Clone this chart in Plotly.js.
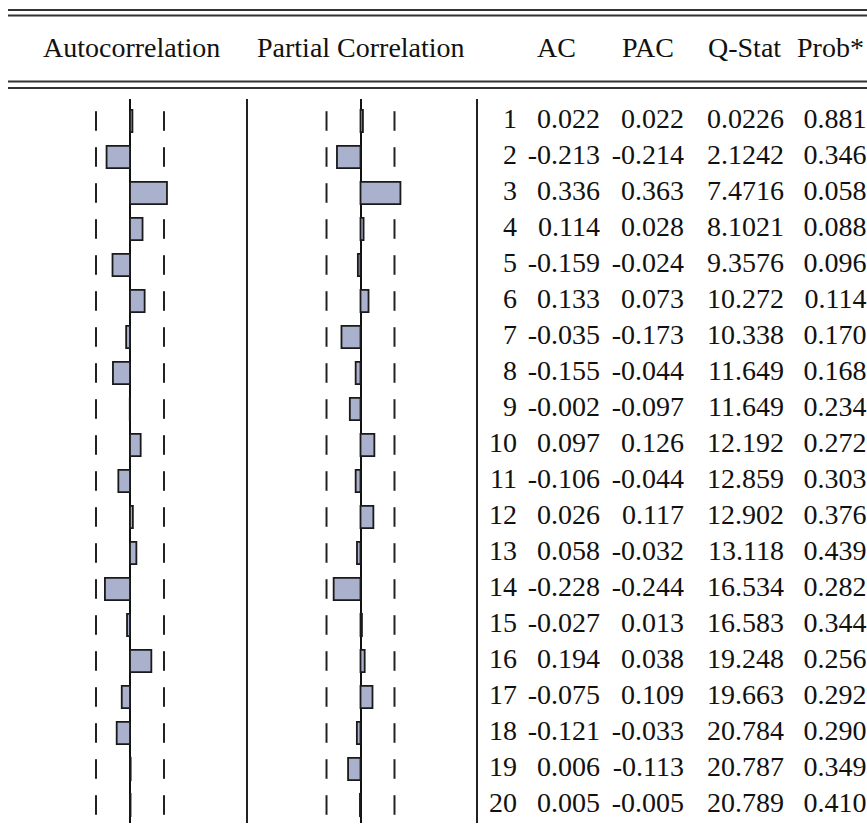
<!DOCTYPE html>
<html>
<head>
<meta charset="utf-8">
<script src="https://cdn.plot.ly/plotly-3.0.1.min.js"></script>
<style>html,body{margin:0;padding:0;background:#fff;}#chart{width:867px;height:836px;}</style>
</head>
<body>
<div id="chart"></div>
<script>
// ---- data ----
const lags = [1,2,3,4,5,6,7,8,9,10,11,12,13,14,15,16,17,18,19,20];
const acValues = [0.022,-0.213,0.336,0.114,-0.159,0.133,-0.035,-0.155,-0.002,0.097,-0.106,0.026,0.058,-0.228,-0.027,0.194,-0.075,-0.121,0.006,0.005];
const pacValues = [0.022,-0.214,0.363,0.028,-0.024,0.073,-0.173,-0.044,-0.097,0.126,-0.044,0.117,-0.032,-0.244,0.013,0.038,0.109,-0.033,-0.113,-0.005];
const qStat = [0.0226,2.1242,7.4716,8.1021,9.3576,10.272,10.338,11.649,11.649,12.192,12.859,12.902,13.118,16.534,16.583,19.248,19.663,20.784,20.787,20.789];
const probValues = [0.881,0.346,0.058,0.088,0.096,0.114,0.170,0.168,0.234,0.272,0.303,0.376,0.439,0.282,0.344,0.256,0.292,0.290,0.349,0.410];
const confBand = 0.309;
const headers = ["Autocorrelation","Partial Correlation","AC","PAC","Q-Stat","Prob*"];

// ---- geometry (pixels) ----
const W = 867, H = 836, TOP = 99, BOT = 823;
const SCALE = 110;            // pixels per unit of correlation
const AC_ZERO = 130, SEP1 = 247, PAC_ZERO = 360.5, SEP2 = 477;
const px = x => x / W;
const py = y => (BOT - y) / (BOT - TOP);

const FONT = {family: "'Liberation Serif', 'Times New Roman', serif", size: 28, color: "#111"};
const barStyle = {color: "#aab1cc", line: {color: "#1a1a1a", width: 1.8}};
const tickStyle = {symbol: "line-ns", size: 14, line: {color: "#222", width: 2}};

const traces = [];
// confidence-band dashes (a dash is hidden where a bar is drawn over it)
[["x", acValues], ["x2", pacValues]].forEach(([ax, vals]) => {
  traces.push({type: "scatter", mode: "markers", y: lags,
    x: vals.map(v => v < confBand ? confBand : null),
    marker: tickStyle, xaxis: ax, yaxis: "y", hoverinfo: "none"});
  traces.push({type: "scatter", mode: "markers", y: lags,
    x: vals.map(v => v > -confBand ? -confBand : null),
    marker: tickStyle, xaxis: ax, yaxis: "y", hoverinfo: "none"});
});
traces.push({type: "bar", orientation: "h", x: acValues, y: lags, width: 0.62,
  marker: barStyle, xaxis: "x", yaxis: "y", hoverinfo: "none"});
traces.push({type: "bar", orientation: "h", x: pacValues, y: lags, width: 0.62,
  marker: barStyle, xaxis: "x2", yaxis: "y", hoverinfo: "none"});

const fmt3 = v => v.toFixed(3);
const fmtQ = v => v < 10 ? v.toFixed(4) : v.toFixed(3);
const columns = [
  {right: 517, text: lags.map(String)},
  {right: 600, text: acValues.map(fmt3)},
  {right: 684, text: pacValues.map(fmt3)},
  {right: 784, text: qStat.map(fmtQ)},
  {right: 866.5, text: probValues.map(fmt3)}
];
columns.forEach(c => {
  traces.push({type: "scatter", mode: "text", x: lags.map(() => c.right), y: lags,
    text: c.text, textposition: "middle left", textfont: FONT, cliponaxis: false,
    xaxis: "x3", yaxis: "y", hoverinfo: "none"});
});

const hiddenAxis = {showgrid: false, showticklabels: false, ticks: "", showline: false, fixedrange: true};
const layout = {
  width: W, height: H,
  margin: {l: 0, r: 0, t: TOP, b: H - BOT, pad: 0},
  paper_bgcolor: "#fff", plot_bgcolor: "rgba(0,0,0,0)",
  showlegend: false, barmode: "overlay",
  xaxis: Object.assign({}, hiddenAxis, {domain: [0, px(SEP1)],
    range: [-AC_ZERO / SCALE, (SEP1 - AC_ZERO) / SCALE],
    zeroline: true, zerolinecolor: "#111", zerolinewidth: 2}),
  xaxis2: Object.assign({}, hiddenAxis, {domain: [px(SEP1), px(SEP2)], anchor: "y",
    range: [-(PAC_ZERO - SEP1) / SCALE, (SEP2 - PAC_ZERO) / SCALE],
    zeroline: true, zerolinecolor: "#111", zerolinewidth: 2}),
  xaxis3: Object.assign({}, hiddenAxis, {domain: [px(SEP2), 1], anchor: "y",
    range: [SEP2, W], zeroline: false}),
  yaxis: Object.assign({}, hiddenAxis, {zeroline: false,
    range: [20 + (BOT - 805) / 36, 1 - (121 - TOP) / 36]}),
  shapes: [],
  annotations: []
};

// separators
[SEP1, SEP2].forEach(x => layout.shapes.push({type: "line", xref: "paper", yref: "paper",
  x0: px(x), x1: px(x), y0: 0, y1: 1, line: {color: "#222", width: 2}}));
// double rules
[10, 15.5, 81.5, 88].forEach(y => layout.shapes.push({type: "line", xref: "paper", yref: "paper",
  x0: px(8), x1: 1, y0: py(y), y1: py(y), line: {color: "#333", width: 2}}));

// headers
const headerCenters = [131, 360.5, 556, 648, 744, 830];
headers.forEach((h, i) => layout.annotations.push({text: h, xref: "paper", yref: "paper",
  x: px(headerCenters[i]), y: py(47), xanchor: "center", yanchor: "middle",
  showarrow: false, font: FONT}));

Plotly.newPlot("chart", traces, layout, {staticPlot: true, displayModeBar: false});
</script>
</body>
</html>
